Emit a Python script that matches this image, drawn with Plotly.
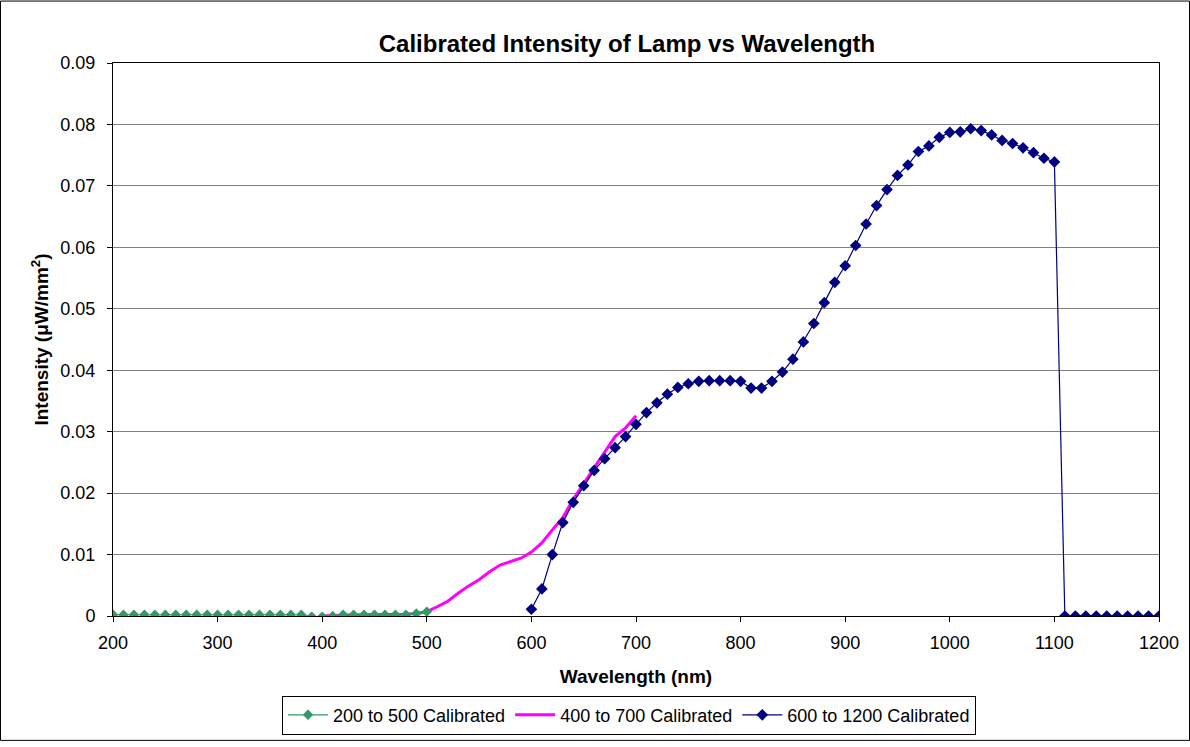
import plotly.graph_objects as go

# wavelength grids (nm)
wl_200_500 = list(range(200, 501, 10))
wl_400_700 = list(range(400, 701, 10))
wl_600_1200 = list(range(600, 1201, 10))

# intensities (uW/mm^2)
int_200_500 = [0.0002, 0.0002, 0.0002, 0.0002, 0.0002, 0.0002, 0.0002, 0.0002, 0.0002, 0.0002,
               0.0002, 0.0002, 0.0002, 0.0002, 0.0002, 0.0002, 0.0002, 0.0002, 0.0002, -0.0001,
               -0.0001, 0.0000, 0.0002, 0.0002, 0.0002, 0.0002, 0.0002, 0.0002, 0.0002, 0.0004,
               0.0007]

int_400_700 = [0.0000, 0.0001, 0.0002, 0.0002, 0.0002, 0.0002, 0.0002, 0.0002, 0.0003, 0.0004,
               0.0007, 0.0015, 0.0024, 0.0037, 0.0049, 0.0059, 0.0072, 0.0083, 0.0088, 0.0094,
               0.0104, 0.0119, 0.0140, 0.0160, 0.0190, 0.0215, 0.0241, 0.0265, 0.0292, 0.0306,
               0.0326]

int_600_1200 = [0.0011, 0.0044, 0.0100, 0.0152, 0.0185, 0.0212, 0.0237, 0.0256, 0.0274, 0.0292,
                0.0312, 0.0331, 0.0347, 0.0361, 0.0372, 0.0378, 0.0382, 0.0383, 0.0383, 0.0383,
                0.0382, 0.0371, 0.0371, 0.0382, 0.0397, 0.0418, 0.0446, 0.0476, 0.0510, 0.0543,
                0.0570, 0.0603, 0.0638, 0.0668, 0.0694, 0.0717, 0.0734, 0.0756, 0.0765, 0.0779,
                0.0787, 0.0788, 0.0793, 0.0790, 0.0783, 0.0774, 0.0769, 0.0762, 0.0754, 0.0745,
                0.0739, 0.0000, 0.0000, 0.0000, 0.0000, 0.0000, 0.0000, 0.0000, 0.0000, 0.0000,
                0.0000]

series_names = ["200 to 500 Calibrated", "400 to 700 Calibrated", "600 to 1200 Calibrated"]

x_ticks = list(range(200, 1201, 100))
y_ticks = [0, 0.01, 0.02, 0.03, 0.04, 0.05, 0.06, 0.07, 0.08, 0.09]
y_tick_labels = ["0", "0.01", "0.02", "0.03", "0.04", "0.05", "0.06", "0.07", "0.08", "0.09"]

FONT = "Liberation Sans, Arial, sans-serif"

fig = go.Figure()

fig.add_trace(go.Scatter(
    x=wl_400_700, y=int_400_700, name=series_names[1], mode="lines",
    line=dict(color="#FF00FF", width=3), legendrank=2))

fig.add_trace(go.Scatter(
    x=wl_600_1200, y=int_600_1200, name=series_names[2], mode="lines+markers",
    line=dict(color="#000080", width=1.2),
    marker=dict(symbol="diamond", size=9, color="#000080"), legendrank=3))

fig.add_trace(go.Scatter(
    x=wl_200_500, y=int_200_500, name=series_names[0], mode="lines+markers",
    line=dict(color="#339966", width=1.2),
    marker=dict(symbol="diamond", size=8, color="#339966"), legendrank=1))

# plot area in pixels: x 113..1159, y 63..621 in a 1190x747 page
L, R, T, B = 113, 1190 - 1159, 63, 747 - 621
pw, ph = 1159 - 113, 621 - 63

fig.update_layout(
    width=1190, height=747,
    margin=dict(l=L, r=R, t=T, b=B),
    paper_bgcolor="white", plot_bgcolor="white",
    font=dict(family=FONT, size=18, color="black"),
    title=dict(text="<b>Calibrated Intensity of Lamp vs Wavelength</b>",
               x=(627 - L) / pw, xref="paper", xanchor="center",
               y=1 - 44 / 747, yanchor="middle",
               font=dict(size=24, family=FONT)),
    showlegend=True,
    legend=dict(orientation="h", x=(629 - L) / pw, xanchor="center",
                y=-(721 - 621) / ph, yanchor="middle",
                bordercolor="black", borderwidth=1, bgcolor="white",
                font=dict(size=18), traceorder="normal",
                itemwidth=40),
    shapes=[dict(type="rect", xref="paper", yref="paper",
                 x0=(0.5 - L) / pw, x1=(1189.5 - L) / pw,
                 y0=-(746.5 - 621) / ph, y1=1 + (63 - 0.5) / ph,
                 line=dict(color="black", width=1), layer="below")],
)

fig.update_xaxes(
    range=[200, 1200], tickvals=x_ticks, ticks="outside", ticklen=5,
    ticklabelstandoff=5,
    tickcolor="black", showline=True, linecolor="black", linewidth=1,
    mirror=True, showgrid=False, zeroline=False,
    title=dict(text="<b>Wavelength (nm)</b>", font=dict(size=19), standoff=18),
    tickfont=dict(size=18))

fig.update_yaxes(
    range=[0, 0.09], tickvals=y_ticks, ticktext=y_tick_labels, ticks="outside",
    ticklen=5, ticklabelstandoff=8,
    tickcolor="black", showline=True, linecolor="black", linewidth=1,
    mirror=True, showgrid=True, gridcolor="#808080", gridwidth=1, zeroline=False,
    title=dict(text="<b>Intensity (μW/mm<sup>2</sup>)</b>", font=dict(size=19), standoff=6),
    tickfont=dict(size=18))

fig.write_html("out.html", config={"displayModeBar": False},
               post_script="document.body.style.margin='0';document.body.style.overflow='hidden';")
